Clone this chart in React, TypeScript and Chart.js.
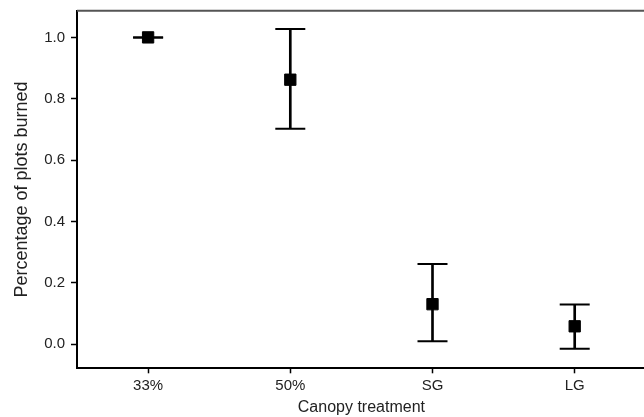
import React, { useEffect, useRef } from "react";
import { Chart, registerables } from "chart.js";

Chart.register(...registerables);

const categories = ["33%", "50%", "SG", "LG"];
const means = [1.0, 0.862, 0.13, 0.058];
const upper = [1.0, 1.027, 0.261, 0.129];
const lower = [1.0, 0.702, 0.009, -0.015];
const yTicks = [0, 0.2, 0.4, 0.6, 0.8, 1.0];
const yMin = -0.079;
const yMax = 1.087;
const xTitle = "Canopy treatment";
const yTitle = "Percentage of plots burned";

const FONT = "'Liberation Sans', Arial, Helvetica, sans-serif";
const TEXT = "#222222";

const topBorder = {
  id: "topBorder",
  afterDraw(chart: any) {
    const { ctx, chartArea } = chart;
    ctx.save();
    ctx.strokeStyle = "#555555";
    ctx.lineWidth = 2;
    ctx.beginPath();
    ctx.moveTo(chartArea.left, chartArea.top);
    ctx.lineTo(chartArea.right + 20, chartArea.top);
    ctx.stroke();
    ctx.restore();
  },
};

export default function App() {
  const ref = useRef<HTMLCanvasElement | null>(null);

  useEffect(() => {
    if (!ref.current) return;
    const chart = new Chart(ref.current, {
      type: "bar",
      data: {
        labels: categories,
        datasets: [
          {
            type: "line",
            data: means,
            showLine: false,
            pointStyle: "rect",
            pointRadius: 8,
            pointBackgroundColor: "#000000",
            pointBorderColor: "#000000",
            pointBorderWidth: 1,
            order: 0,
          } as any,
          {
            type: "line",
            data: upper,
            showLine: false,
            pointStyle: "line",
            pointRadius: 15,
            pointBorderColor: "#000000",
            pointBorderWidth: 2,
            order: 1,
          } as any,
          {
            type: "line",
            data: lower,
            showLine: false,
            pointStyle: "line",
            pointRadius: 15,
            pointBorderColor: "#000000",
            pointBorderWidth: 2,
            order: 1,
          } as any,
          {
            type: "bar",
            data: lower.map((lo, i) => [lo, upper[i]]),
            backgroundColor: "#000000",
            borderWidth: 0,
            barThickness: 2,
            order: 2,
          } as any,
        ],
      },
      options: {
        animation: false,
        responsive: false,
        events: [],
        layout: { autoPadding: false, padding: { top: 10.7, right: 14.2, left: 0, bottom: 0 } },
        plugins: { legend: { display: false }, tooltip: { enabled: false } },
        scales: {
          x: {
            type: "category",
            offset: true,
            grid: {
              display: true,
              offset: false,
              drawOnChartArea: false,
              drawTicks: true,
              tickLength: 5,
              tickColor: "#000000",
              tickWidth: 1.5,
            },
            border: { display: true, color: "#000000", width: 2 },
            ticks: {
              color: TEXT,
              font: { family: FONT, size: 15 },
              padding: 4,
              maxRotation: 0,
            },
            title: {
              display: true,
              text: xTitle,
              color: TEXT,
              font: { family: FONT, size: 16 },
              padding: { top: 0, bottom: 0 },
            },
            afterFit(scale: any) {
              scale.height = 48.7;
              scale.paddingLeft = 0;
              scale.paddingRight = 0;
            },
          },
          y: {
            type: "linear",
            min: yMin,
            max: yMax,
            grid: {
              display: true,
              drawOnChartArea: false,
              drawTicks: true,
              tickLength: 6,
              tickColor: "#000000",
              tickWidth: 1.5,
            },
            border: { display: true, color: "#000000", width: 2 },
            ticks: {
              color: TEXT,
              font: { family: FONT, size: 15 },
              padding: 6,
              includeBounds: false,
              callback: (v: any) => Number(v).toFixed(1),
            },
            afterBuildTicks(scale: any) {
              scale.ticks = yTicks.map((v) => ({ value: v }));
            },
            title: {
              display: true,
              text: yTitle,
              color: TEXT,
              font: { family: FONT, size: 18 },
              padding: { top: 11, bottom: 0 },
            },
            afterFit(scale: any) {
              scale.width = 77;
              scale.paddingTop = 0;
              scale.paddingBottom = 0;
            },
          },
        },
      } as any,
      plugins: [topBorder],
    });
    return () => chart.destroy();
  }, []);

  return (
    <div
      style={{
        position: "fixed",
        left: 0,
        top: 0,
        width: 644,
        height: 417,
        overflow: "hidden",
        background: "#ffffff",
      }}
    >
      <canvas ref={ref} width={660} height={417} style={{ width: 660, height: 417, display: "block" }} />
    </div>
  );
}
